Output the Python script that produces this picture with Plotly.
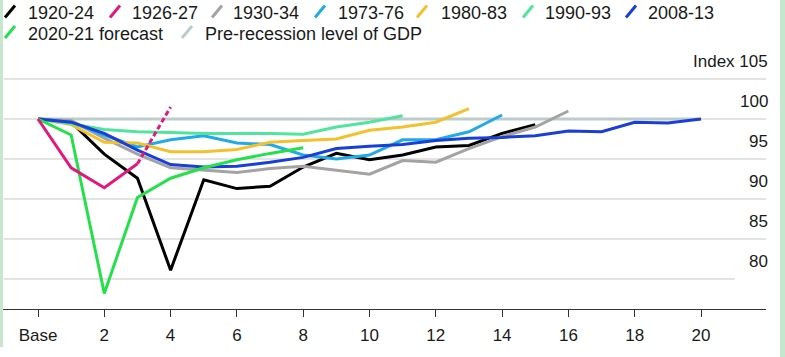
import plotly.graph_objects as go

# ---------------- data ----------------
quarters = list(range(0, 21))
tick_vals = [0, 2, 4, 6, 8, 10, 12, 14, 16, 18, 20]
tick_text = ["Base", "2", "4", "6", "8", "10", "12", "14", "16", "18", "20"]
y_grid = [80, 85, 90, 95, 100, 105]
y_labels = ["80", "85", "90", "95", "100", "Index 105"]

pre_recession = [100] * 21

s1920_24 = [100, 99.6, 95.6, 92.6, 81.1, 92.4, 91.3, 91.6, 94.0, 95.7, 94.9, 95.5, 96.5, 96.7, 98.2, 99.3]
s1926_27 = [100, 93.9, 91.4, 94.4]
s1926_27_tail = [94.4, 101.5]
s1930_34 = [100, 99.8, 97.6, 95.6, 93.9, 93.6, 93.3, 93.8, 94.1, 93.6, 93.1, 94.8, 94.6, 96.3, 97.8, 99.0, 101.0]
s1973_76 = [100, 99.6, 98.0, 96.5, 97.4, 97.9, 97.0, 96.8, 95.5, 95.0, 95.5, 97.4, 97.4, 98.4, 100.5]
s1980_83 = [100, 99.3, 97.1, 97.0, 95.9, 95.9, 96.2, 97.1, 97.3, 97.5, 98.6, 99.0, 99.6, 101.3]
s1990_93 = [100, 99.4, 98.7, 98.4, 98.3, 98.2, 98.2, 98.2, 98.1, 99.0, 99.6, 100.4]
s2008_13 = [100, 99.6, 98.2, 96.1, 94.3, 94.0, 94.1, 94.6, 95.2, 96.3, 96.6, 96.8, 97.3, 97.6, 97.7, 97.9, 98.5, 98.4, 99.6, 99.5, 100]
s2020_21 = [100, 98.0, 78.2, 90.2, 92.6, 93.9, 94.9, 95.7, 96.4]

legend_row1 = ["1920-24", "1926-27", "1930-34", "1973-76", "1980-83", "1990-93", "2008-13"]
legend_row2 = ["2020-21 forecast", "Pre-recession level of GDP"]

# ---------------- styling ----------------
C = {
    "1920-24": "#000000",
    "1926-27": "#e0197d",
    "1930-34": "#a3a3a3",
    "1973-76": "#22aae6",
    "1980-83": "#f2c12e",
    "1990-93": "#52e39e",
    "2008-13": "#1a3fd6",
    "2020-21 forecast": "#25e04a",
    "Pre-recession level of GDP": "#bccbcb",
}
FONT = "Liberation Sans, Arial, sans-serif"
W, H = 785, 357
ML, MR, MT, MB = 3, 19, 50, 48
PW, PH = W - ML - MR, H - MT - MB


def px(x):
    return (x - ML) / PW


def py(y):
    return (H - MB - y) / PH


fig = go.Figure()


def add(name, ys, x0=0, dash="solid"):
    fig.add_trace(go.Scatter(
        x=list(range(x0, x0 + len(ys))), y=ys, mode="lines", name=name,
        line=dict(color=C[name], width=3, dash=dash), showlegend=False,
        hoverinfo="x+y+name"))


add("Pre-recession level of GDP", pre_recession)
add("1920-24", s1920_24)
add("1930-34", s1930_34)
add("1973-76", s1973_76)
add("1980-83", s1980_83)
add("1990-93", s1990_93)
add("2008-13", s2008_13)
add("2020-21 forecast", s2020_21)
add("1926-27", s1926_27)
add("1926-27", s1926_27_tail, x0=3, dash="5px,3px")

shapes = []
annotations = []

# gridlines
for v in y_grid:
    shapes.append(dict(type="line", xref="paper", yref="y", x0=0.001,
                       x1=(0.959 if v == 80 else 1.0), y0=v, y1=v,
                       line=dict(color="#dadada", width=1.5), layer="below"))
# y labels above gridlines
for v, t in zip(y_grid, y_labels):
    annotations.append(dict(x=px(770), xref="paper", y=v, yref="y", text=t,
                            showarrow=False, xanchor="right", yanchor="middle",
                            yshift=18, font=dict(family=FONT, size=17, color="#1a1a1a")))

# green frame
shapes.append(dict(type="rect", xref="paper", yref="paper", x0=px(0), x1=px(3),
                   y0=py(347), y1=py(0), fillcolor="#c6e7cd", line=dict(width=0), layer="below"))
shapes.append(dict(type="rect", xref="paper", yref="paper", x0=px(780), x1=px(785),
                   y0=py(357), y1=py(0), fillcolor="#c6e7cd", line=dict(width=0), layer="below"))

# custom legend with slash icons
row1_icon = [5, 110, 212, 315, 417, 523, 626]
row1_text = [28, 132, 233, 338, 441, 545, 648]
row2_icon = [5, 182]
row2_text = [28, 205]
for names, icons, texts, yc in [(legend_row1, row1_icon, row1_text, 11.5),
                                 (legend_row2, row2_icon, row2_text, 32)]:
    for n, ix, tx in zip(names, icons, texts):
        shapes.append(dict(type="line", xref="paper", yref="paper",
                           x0=px(ix), x1=px(ix + 10), y0=py(yc + 6), y1=py(yc - 6),
                           line=dict(color=C[n], width=3)))
        annotations.append(dict(x=px(tx - 2), xref="paper", y=py(yc + 1.5), yref="paper",
                                text=n, showarrow=False, xanchor="left", yanchor="middle",
                                font=dict(family=FONT, size=18, color="#1a1a1a")))

fig.update_layout(
    width=W, height=H,
    margin=dict(l=ML, r=MR, t=MT, b=MB),
    paper_bgcolor="white", plot_bgcolor="white",
    shapes=shapes, annotations=annotations,
    xaxis=dict(range=[(ML - 38) / 33.15, (W - MR - 38) / 33.15],
               tickvals=tick_vals, ticktext=tick_text,
               showline=True, linecolor="#333333", linewidth=1.2,
               ticks="outside", ticklen=7, tickcolor="#333333", tickwidth=1.2,
               ticklabelstandoff=3,
               showgrid=False, zeroline=False,
               tickfont=dict(family=FONT, size=17, color="#1a1a1a")),
    yaxis=dict(range=[100 - (H - MB - 119) / 8, 100 + (119 - MT) / 8],
               showticklabels=False, showgrid=False, zeroline=False),
    showlegend=False,
)

fig.write_html("out.html", config={"displayModeBar": False},
               post_script="document.body.style.margin='0px';")
